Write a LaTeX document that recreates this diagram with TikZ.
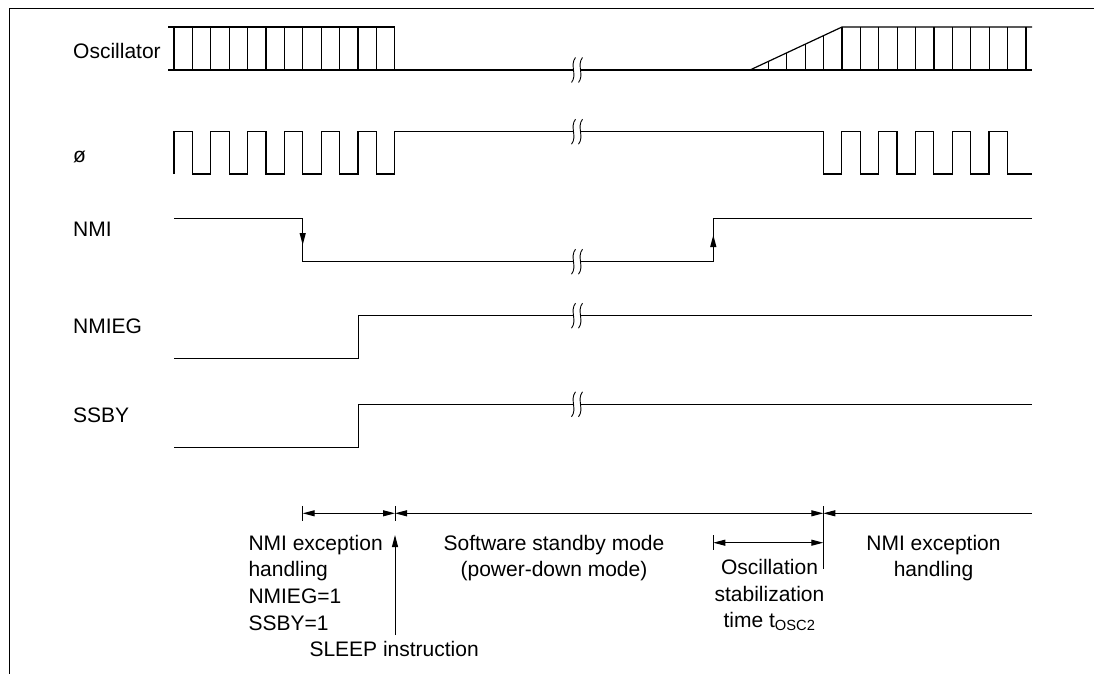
\documentclass[tikz,border=0pt]{standalone}
\usepackage{fontspec}
\setmainfont{Liberation Sans}
\usetikzlibrary{arrows.meta}

\begin{document}
\begin{tikzpicture}[x=1pt,y=-1pt,
  >={Triangle[length=12pt,width=6pt]},
  wave/.style={line width=1.2pt},
  dimline/.style={line width=1pt},
  sig/.style={anchor=base west,inner sep=0pt,font=\fontsize{21}{27}\selectfont},
  note/.style={anchor=base,inner sep=0pt,align=center,font=\fontsize{21}{26.7}\selectfont},
  cut/.pic={
    \fill[white] (-3.5,-1.6) rectangle (3.5,1.6);
    \draw[line width=0.9pt] (-1.5,-12.5) .. controls (-7.5,-5) and (0.5,5) .. (-5.5,12.5);
    \draw[line width=0.9pt] (5.5,-12.5) .. controls (-0.5,-5) and (7.5,5) .. (1.5,12.5);
  }]
\useasboundingbox (0,0) rectangle (1094,674);
\draw[line width=1pt] (9,674) -- (9,9) -- (1094,9);

% signal names
\node[sig] (osc) at (73,59) {Oscillator};
\node[sig] (phi) at (73,162) {ø};
\node[sig] (nmi) at (73,236) {NMI};
\node[sig] (nmieg) at (73,333) {NMIEG};
\node[sig] (ssby) at (73,422) {SSBY};

% oscillator
\draw[wave] (168,27) -- (395,27);
\draw[wave] (168,70) -- (1032,70);
\foreach \k in {0,...,12}
  \draw[wave] ({174+18.4*\k},27) -- ++(0,43);
\draw[wave] (750,70) -- (842,27) -- (1032,27);
\foreach \k in {1,...,4}
  \draw[wave] ({750+18.4*\k},70) -- ++(0,{-8.6*\k});
\foreach \k in {0,...,10}
  \draw[wave] ({842+18.4*\k},27) -- ++(0,43);
\pic at (577,70) {cut};

% system clock
\draw[wave] (174,174)
  \foreach \k in {0,...,5}{ -- ++(0,-42.3) -- ++(18.4,0) -- ++(0,42.3) -- ++(18.4,0) }
  -- ++(0,-42.3) -- (823.3,131.7)
  \foreach \k in {0,...,4}{ -- ++(0,42.3) -- ++(18.4,0) -- ++(0,-42.3) -- ++(18.4,0) }
  -- ++(0,42.3) -- (1032,174);
\pic at (577,131.7) {cut};

% NMI
\draw[wave] (174,218.3) -- (302.7,218.3) -- (302.7,261.7) -- (713.3,261.7)
  -- (713.3,218.3) -- (1032,218.3);
\draw[wave,->] (302.7,225) -- (302.7,245);
\draw[wave,->] (713.3,255) -- (713.3,235);
\pic at (577,261.7) {cut};

% NMIEG, SSBY
\draw[wave] (174,358.3) -- (358.3,358.3) -- (358.3,315.7) -- (1032,315.7);
\pic at (577,315.7) {cut};
\draw[wave] (174,447.3) -- (358.3,447.3) -- (358.3,404.3) -- (1032,404.3);
\pic at (577,404.3) {cut};

% periods
\coordinate (d0) at (302.7,513.3);
\coordinate (d1) at (395,513.3);
\coordinate (d2) at (823.3,513.3);
\coordinate (d3) at (1032,513.3);
\coordinate (s0) at (713.3,542.7);
\coordinate (s1) at (823.3,542.7);
\draw[dimline] (d0) ++(0,-7.5) -- ++(0,15);
\draw[dimline] (d1) ++(0,-7.5) -- ++(0,15);
\draw[dimline] (d2) ++(0,-7) -- (823.3,569);
\draw[dimline] (s0) ++(0,-7.5) -- ++(0,15);
\draw[dimline,<->] (d0) -- (d1);
\draw[dimline,<->] (d1) -- (d2);
\draw[dimline,<-] (d2) -- (d3);
\draw[dimline,<->] (s0) -- (s1);
\coordinate (sleeptail) at (395,635);
\coordinate (sleeptip) at (395,535);
\draw[dimline,->] (sleeptail) -- (sleeptip);

% the base of a node is its last line
\node[note,anchor=base west,align=left] (hdl1) at (248.3,630.1)
  {NMI exception\\handling\\NMIEG=1\\SSBY=1};
\node[sig] (sleep) at (309.3,656.7) {SLEEP instruction};
\node[note] (stby) at (554,576.7) {Software standby mode\\(power-down mode)};
\node[note] (osctime) at (769.5,627.7) {Oscillation\\stabilization\\time t\textsubscript{OSC2}};
\node[note] (hdl2) at (933.5,576.7) {NMI exception\\handling};
\end{tikzpicture}
\end{document}
